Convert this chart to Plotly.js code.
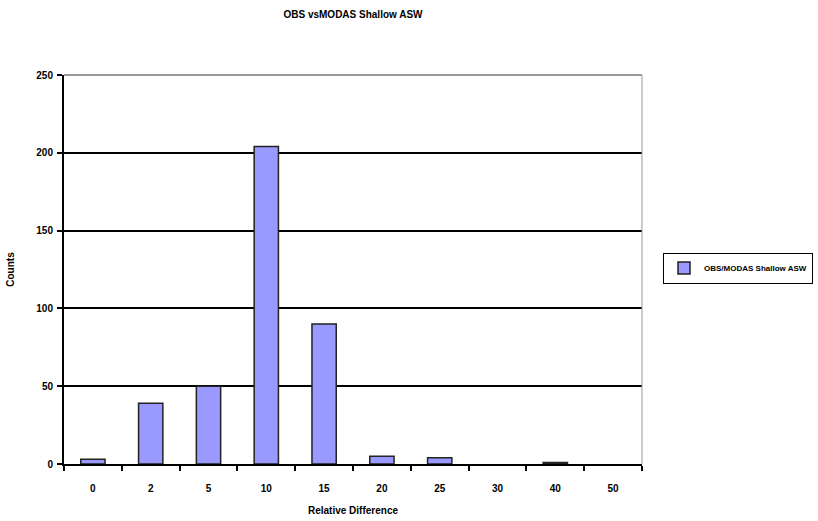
<!DOCTYPE html>
<html>
<head>
<meta charset="utf-8">
<script src="https://cdn.plot.ly/plotly-3.0.1.min.js"></script>
<style>html,body{margin:0;padding:0;background:#fff;}#chart{width:818px;height:521px;}</style>
</head>
<body>
<div id="chart"></div>
<script>
const categories = ["0", "2", "5", "10", "15", "20", "25", "30", "40", "50"];
const counts = [3, 39, 50, 204, 90, 5, 4, 0, 1, 0];
const seriesName = "OBS/MODAS Shallow ASW";
const yTicks = [0, 50, 100, 150, 200, 250];

const fam = "Liberation Sans, Arial, sans-serif";

const trace = {
  type: "bar",
  x: categories,
  y: counts,
  name: seriesName,
  marker: {color: "#9999FF", line: {color: "#222", width: counts.map(v => v > 0 ? 1.5 : 0)}},
  showlegend: true
};

const layout = {
  width: 818, height: 521,
  margin: {l: 64, r: 176, t: 75, b: 57, autoexpand: false},
  paper_bgcolor: "#fff", plot_bgcolor: "#fff",
  font: {family: fam, size: 9, color: "#000"},
  bargap: 0.58,
  title: {text: "<b>OBS vsMODAS Shallow ASW</b>", x: 0.5, xref: "paper", y: 0.972, yanchor: "middle", font: {family: fam, size: 10, color: "#000"}},
  xaxis: {
    type: "category",
    tickson: "boundaries",
    ticks: "outside", ticklen: 5, tickwidth: 2, tickcolor: "#000",
    ticklabelstandoff: 14,
    showline: true, linecolor: "#000", linewidth: 2,
    showgrid: false, zeroline: false,
    tickfont: {family: fam, size: 10, color: "#000", weight: "bold"},
    title: {text: "<b>Relative Difference</b>", standoff: 14, font: {family: fam, size: 10, color: "#000"}}
  },
  yaxis: {
    range: [0, 250],
    tickvals: yTicks,
    ticks: "outside", ticklen: 5, tickwidth: 2, tickcolor: "#000",
    ticklabelstandoff: 2,
    showline: true, linecolor: "#000", linewidth: 2,
    showgrid: true, gridcolor: "#000", gridwidth: 2,
    zeroline: false,
    tickfont: {family: fam, size: 10, color: "#000", weight: "bold"},
    title: {text: "<b>Counts</b>", standoff: 20, font: {family: fam, size: 10, color: "#000"}}
  },
  shapes: [
    {type: "line", xref: "paper", yref: "paper", x0: 0, x1: 1, y0: 1, y1: 1, line: {color: "#999", width: 2}},
    {type: "line", xref: "paper", yref: "paper", x0: 1, x1: 1, y0: 0, y1: 1, line: {color: "#999", width: 1}}
  ],
  legend: {
    xref: "container", yref: "container",
    x: 663 / 818, xanchor: "left", y: 1 - 268 / 521, yanchor: "middle",
    bordercolor: "#000", borderwidth: 1, bgcolor: "#fff",
    font: {family: fam, size: 8, color: "#000", weight: "bold"},
    itemwidth: 30
  }
};

Plotly.newPlot("chart", [trace], layout, {displayModeBar: false, staticPlot: true});
</script>
</body>
</html>
